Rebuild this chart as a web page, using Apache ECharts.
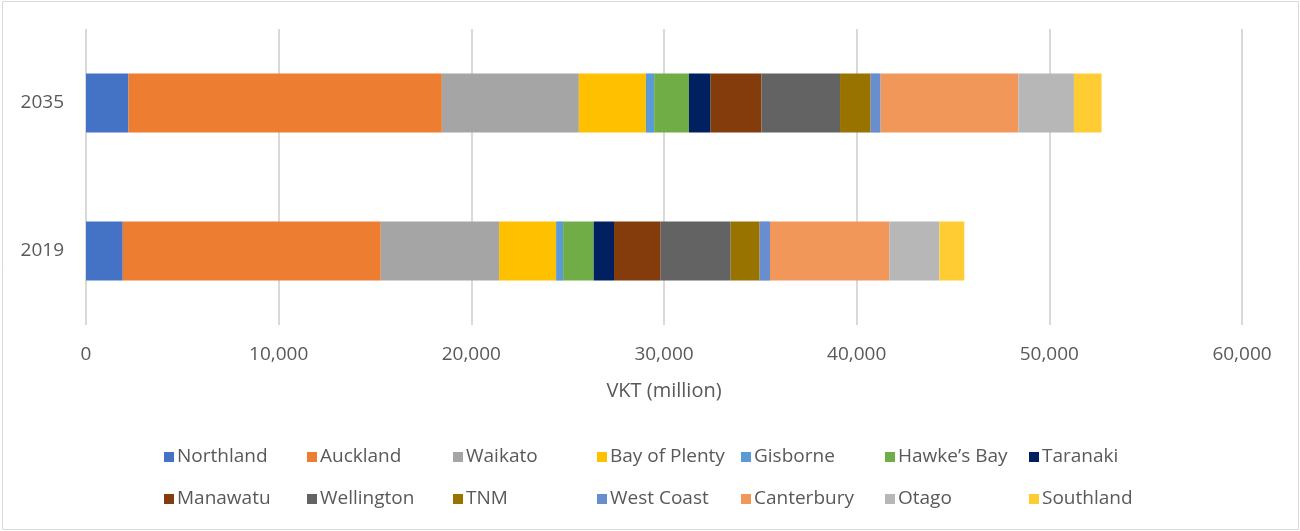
<!DOCTYPE html>
<html>
<head>
<meta charset="utf-8">
<title>VKT by region</title>
<script src="https://cdn.jsdelivr.net/npm/echarts@6/dist/echarts.min.js"></script>
<style>
  html, body { margin: 0; padding: 0; background: #ffffff; }
  #chart { width: 1300px; height: 531px; }
</style>
</head>
<body>
<div id="chart"></div>
<script>
// Years shown on the category axis (bottom to top)
const years = ['2019', '2035'];

// Regions in stacking order
const regions = ['Northland', 'Auckland', 'Waikato', 'Bay of Plenty', 'Gisborne', 'Hawke\u2019s Bay', 'Taranaki',
                 'Manawatu', 'Wellington', 'TNM', 'West Coast', 'Canterbury', 'Otago', 'Southland'];

// Vehicle kilometres travelled (million) per region
const vkt2019 = [1908, 13391, 6141, 2960, 363, 1586, 1056, 2422, 3633, 1505, 537, 6194, 2595, 1297];
const vkt2035 = [2205, 16265, 7110, 3482, 428, 1805, 1123, 2642, 4076, 1589, 519, 7150, 2884, 1434];

// Value axis ticks
const xTicks = { min: 0, max: 60000, step: 10000 };

const colors = ['#4472C4', '#ED7D31', '#A5A5A5', '#FFC000', '#5B9BD5', '#70AD47', '#002060',
                '#843C0C', '#636363', '#997300', '#698ED0', '#F1975A', '#B7B7B7', '#FFCD33'];

const font = '"Open Sans", "Liberation Sans", sans-serif';
const textColor = '#595959';

const series = regions.map((name, i) => ({
  name: name,
  type: 'bar',
  stack: 'total',
  barWidth: '40%',
  itemStyle: { color: colors[i] },
  emphasis: { disabled: true },
  data: [vkt2019[i], vkt2035[i]]
}));

// Legend laid out as a 7 x 2 grid: one vertical legend per column
const colLeft = [159, 302, 448, 592, 736, 880, 1024];
const legends = colLeft.map((left, c) => ({
  orient: 'vertical',
  left: left,
  top: 442,
  itemWidth: 10,
  itemHeight: 10,
  itemGap: 22,
  icon: 'rect',
  selectedMode: false,
  textStyle: { fontFamily: font, fontSize: 19, color: textColor, lineHeight: 20, padding: [0, 0, 0, -2] },
  data: [regions[c], regions[c + 7]].filter(Boolean)
}));

const chart = echarts.init(document.getElementById('chart'), null, { renderer: 'canvas' });
chart.setOption({
  animation: false,
  color: colors,
  textStyle: { fontFamily: font },
  grid: { left: 86, right: 58, top: 29, bottom: 206, containLabel: false },
  legend: legends,
  xAxis: {
    type: 'value',
    min: xTicks.min,
    max: xTicks.max,
    interval: xTicks.step,
    name: 'VKT (million)',
    nameLocation: 'middle',
    nameGap: 56,
    nameTextStyle: { fontFamily: font, fontSize: 20, color: textColor },
    axisLine: { show: false },
    axisTick: { show: false },
    splitLine: { show: true, lineStyle: { color: '#d9d9d9', width: 2 } },
    axisLabel: {
      margin: 20,
      fontFamily: font,
      fontSize: 19,
      color: textColor,
      formatter: v => v.toLocaleString('en-US')
    }
  },
  yAxis: {
    type: 'category',
    data: years,
    axisLine: { show: false },
    axisTick: { show: false },
    splitLine: { show: false },
    axisLabel: { margin: 22, fontFamily: font, fontSize: 19, color: textColor }
  },
  graphic: [{
    type: 'rect',
    silent: true,
    shape: { x: 2.5, y: 1.5, width: 1296, height: 528 },
    style: { fill: 'none', stroke: '#d9d9d9', lineWidth: 1 }
  }],
  series: series
});
</script>
</body>
</html>
